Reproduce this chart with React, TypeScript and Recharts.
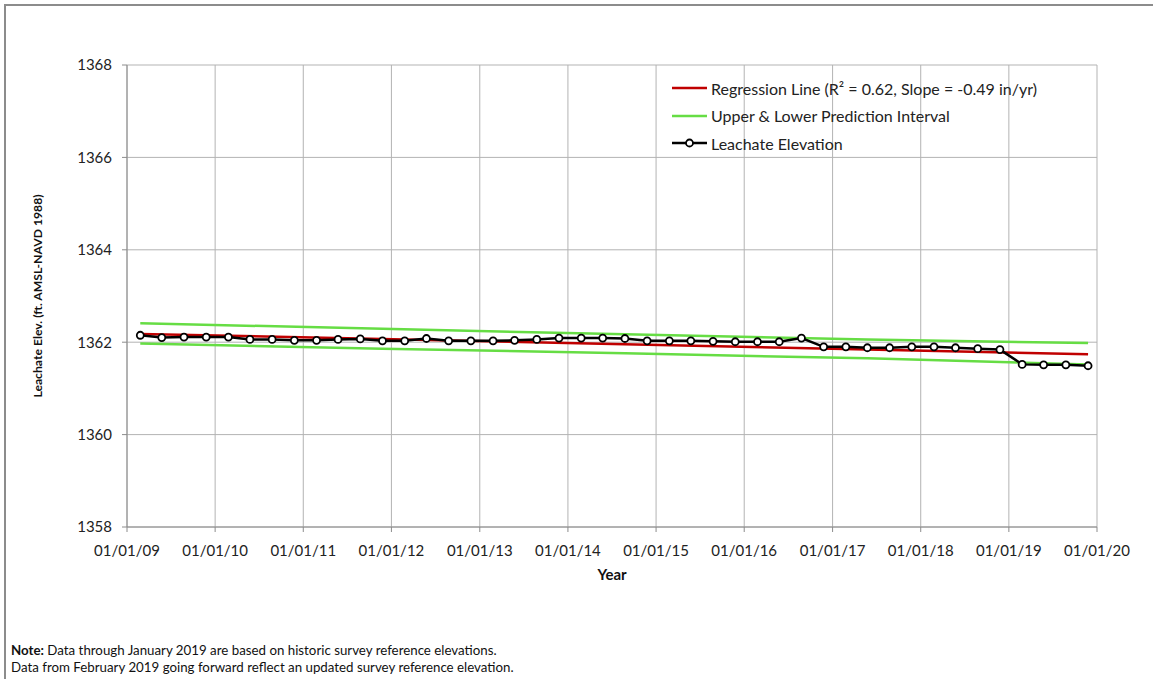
import { CartesianGrid, Legend, Line, LineChart, XAxis, YAxis } from 'recharts';

// quarterly survey dates
const sampleDates = [
  '2009-02-25', '2009-05-25', '2009-08-25', '2009-11-25',
  '2010-02-25', '2010-05-25', '2010-08-25', '2010-11-25',
  '2011-02-25', '2011-05-25', '2011-08-25', '2011-11-25',
  '2012-02-25', '2012-05-25', '2012-08-25', '2012-11-25',
  '2013-02-25', '2013-05-25', '2013-08-25', '2013-11-25',
  '2014-02-25', '2014-05-25', '2014-08-25', '2014-11-25',
  '2015-02-25', '2015-05-25', '2015-08-25', '2015-11-25',
  '2016-02-25', '2016-05-25', '2016-08-25', '2016-11-25',
  '2017-02-25', '2017-05-25', '2017-08-25', '2017-11-25',
  '2018-02-25', '2018-05-25', '2018-08-25', '2018-11-25',
  '2019-02-25', '2019-05-25', '2019-08-25', '2019-11-25',
];

const leachateElev = [
  1362.15, 1362.1, 1362.11, 1362.11,
  1362.11, 1362.06, 1362.06, 1362.04,
  1362.04, 1362.06, 1362.07, 1362.03,
  1362.03, 1362.08, 1362.03, 1362.03,
  1362.03, 1362.04, 1362.06, 1362.09,
  1362.09, 1362.09, 1362.08, 1362.03,
  1362.03, 1362.03, 1362.02, 1362.01,
  1362.01, 1362.01, 1362.09, 1361.9,
  1361.9, 1361.88, 1361.88, 1361.9,
  1361.9, 1361.88, 1361.86, 1361.84,
  1361.52, 1361.51, 1361.51, 1361.49,
];

const regressionDates = ['2009-02-25', '2019-11-25'];
const regressionElev = [1362.18, 1361.74];

const intervalDates = ['2009-02-25', '2011-11-25', '2014-08-25', '2017-05-25', '2019-11-25'];
const upperPI = [1362.41, 1362.29, 1362.17, 1362.06, 1361.98];
const lowerPI = [1361.97, 1361.86, 1361.76, 1361.65, 1361.52];

const yearTicks = [
  '2009-01-01', '2010-01-01', '2011-01-01', '2012-01-01', '2013-01-01', '2014-01-01',
  '2015-01-01', '2016-01-01', '2017-01-01', '2018-01-01', '2019-01-01', '2020-01-01',
];
const elevTicks = [1358, 1360, 1362, 1364, 1366, 1368];

const ts = (d: string) => Date.parse(d);

type Row = { t: number; elev?: number; reg?: number; upper?: number; lower?: number };

const rows: Row[] = sampleDates.map((d, i) => ({ t: ts(d), elev: leachateElev[i] }));
const rowAt = (d: string) => rows.find((r) => r.t === ts(d)) as Row;
regressionDates.forEach((d, i) => { rowAt(d).reg = regressionElev[i]; });
intervalDates.forEach((d, i) => {
  rowAt(d).upper = upperPI[i];
  rowAt(d).lower = lowerPI[i];
});

const FONT = 'Lato, "Open Sans", sans-serif';
const RED = '#c00000';
const GREEN = '#66dd44';
const AXIS = '#8c8c8c';

const fmtYear = (v: number) => `01/01/${String(new Date(v).getUTCFullYear()).slice(2)}`;

const legendItems = [
  { label: 'Regression Line (R\u00B2 = 0.62, Slope = -0.49 in/yr)', color: RED, dot: false },
  { label: 'Upper & Lower Prediction Interval', color: GREEN, dot: false },
  { label: 'Leachate Elevation', color: '#000', dot: true },
];

function ChartLegend() {
  return (
    <div style={{ fontFamily: FONT, fontSize: 16, color: '#222' }}>
      {legendItems.map((it) => (
        <div key={it.label} style={{ display: 'flex', alignItems: 'center', height: 27.5 }}>
          <svg width={35} height={12} style={{ marginRight: 4 }}>
            <line x1={0} x2={35} y1={6} y2={6} stroke={it.color} strokeWidth={2.5} />
            {it.dot && <circle cx={17.5} cy={6} r={3.5} fill="#fff" stroke="#000" strokeWidth={1.8} />}
          </svg>
          <span style={{ whiteSpace: 'nowrap' }}>{it.label}</span>
        </div>
      ))}
    </div>
  );
}

export default function App() {
  return (
    <div style={{ position: 'absolute', left: 0, top: 0, width: 1153, height: 679, background: '#fff', overflow: 'hidden' }}>
      <div
        style={{
          position: 'absolute', left: 4, top: 4, width: 1160, height: 720,
          borderLeft: '2px solid #8c8c8c', borderTop: '2px solid #8c8c8c',
        }}
      />
      <div style={{ position: 'absolute', left: 0, top: 0 }}>
        <LineChart
          width={1153}
          height={600}
          data={rows}
          margin={{ top: 65, right: 56, bottom: 33, left: 67 }}
        >
          <CartesianGrid stroke="#b3b3b3" strokeWidth={1} />
          <XAxis
            dataKey="t"
            type="number"
            scale="time"
            domain={[ts(yearTicks[0]), ts(yearTicks[yearTicks.length - 1])]}
            ticks={yearTicks.map(ts)}
            tickFormatter={fmtYear}
            height={40}
            stroke={AXIS}
            tickSize={5}
            tickMargin={13}
            tick={{ fill: '#222', fontSize: 15, fontFamily: FONT }}
            interval={0}
            label={{
              content: ({ viewBox }: any) => (
                <text
                  x={viewBox.x + viewBox.width / 2}
                  y={viewBox.y + 47}
                  textAnchor="middle"
                  dominantBaseline="central"
                  fontFamily={FONT}
                  fontWeight="bold"
                  fontSize={15}
                  fill="#111"
                >
                  Year
                </text>
              ),
            }}
          />
          <YAxis
            type="number"
            domain={[1358, 1368]}
            ticks={elevTicks}
            width={60}
            stroke={AXIS}
            tickSize={5}
            tickMargin={10}
            tick={{ fill: '#222', fontSize: 15, fontFamily: FONT }}
            interval={0}
            label={{
              content: ({ viewBox }: any) => {
                const cx = viewBox.x - 30;
                const cy = viewBox.y + viewBox.height / 2;
                return (
                  <text
                    x={cx}
                    y={cy}
                    transform={`rotate(-90 ${cx} ${cy})`}
                    textAnchor="middle"
                    dominantBaseline="central"
                    fontFamily={FONT}
                    fontWeight="bold"
                    fontSize={12.2}
                    fill="#111"
                  >
                    Leachate Elev. (ft. AMSL-NAVD 1988)
                  </text>
                );
              },
            }}
          />
          <Legend
            layout="horizontal"
            align="center"
            verticalAlign="middle"
            content={<ChartLegend />}
            wrapperStyle={{ position: 'absolute', left: 672, top: 74.5, width: 'auto' }}
          />
          <Line dataKey="upper" stroke={GREEN} strokeWidth={2.5} dot={false} activeDot={false} connectNulls isAnimationActive={false} />
          <Line dataKey="lower" stroke={GREEN} strokeWidth={2.5} dot={false} activeDot={false} connectNulls isAnimationActive={false} />
          <Line dataKey="reg" stroke={RED} strokeWidth={2.5} dot={false} activeDot={false} connectNulls isAnimationActive={false} />
          <Line
            dataKey="elev"
            stroke="#000"
            strokeWidth={2.5}
            dot={{ r: 3.5, fill: '#fff', stroke: '#000', strokeWidth: 1.8 }}
            activeDot={false}
            isAnimationActive={false}
          />
        </LineChart>
      </div>
      <div
        style={{
          position: 'absolute', left: 11, top: 642, fontFamily: FONT, fontSize: 13.3,
          lineHeight: '17px', color: '#111',
        }}
      >
        <div><b>Note:</b> Data through January 2019 are based on historic survey reference elevations.</div>
        <div>Data from February 2019 going forward reflect an updated survey reference elevation.</div>
      </div>
    </div>
  );
}
